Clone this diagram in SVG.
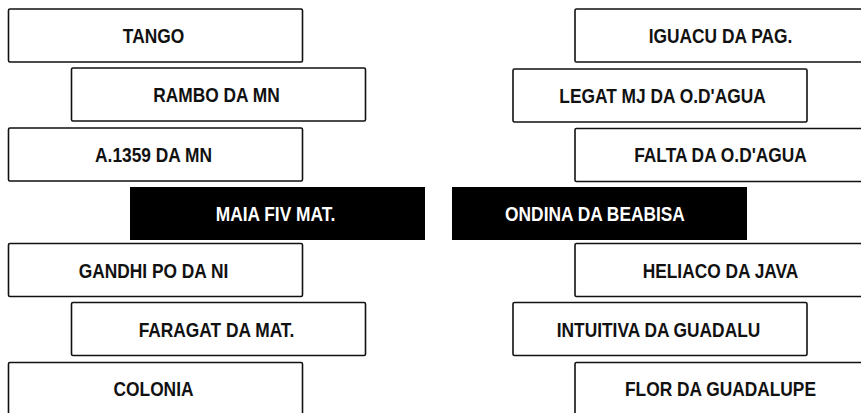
<svg xmlns="http://www.w3.org/2000/svg" width="861" height="413" viewBox="0 0 861 413">
<style>
.b{fill:#fff;stroke:#111;stroke-width:1.6}
.k{fill:#000;stroke:none}
text{font-family:"Liberation Sans",Arial,sans-serif;font-weight:bold;font-size:19.5px;text-anchor:middle}
.w{fill:#fff}
.d{fill:#111}
</style>
<rect width="861" height="413" fill="#fff"/>
<g id="connectors"/>
<g id="n1"><rect class="b" x="8.5" y="9" width="294" height="53" rx="1.5"/><text class="d" transform="translate(153.5,42.7) scale(0.89,1)">TANGO</text></g>
<g id="n2"><rect class="b" x="71.5" y="68" width="294" height="53" rx="1.5"/><text class="d" transform="translate(216.5,101.7) scale(0.89,1)">RAMBO DA MN</text></g>
<g id="n3"><rect class="b" x="8.5" y="128" width="294" height="53" rx="1.5"/><text class="d" transform="translate(153.5,161.7) scale(0.89,1)">A.1359 DA MN</text></g>
<g id="n4"><rect class="k" x="130" y="187" width="295" height="53"/><text class="w" transform="translate(275.5,221) scale(0.89,1)">MAIA FIV MAT.</text></g>
<g id="n5"><rect class="b" x="8.5" y="243.5" width="294" height="53" rx="1.5"/><text class="d" transform="translate(153.5,277.5) scale(0.89,1)">GANDHI PO DA NI</text></g>
<g id="n6"><rect class="b" x="71.5" y="302.5" width="294" height="53" rx="1.5"/><text class="d" transform="translate(216.5,336.5) scale(0.89,1)">FARAGAT DA MAT.</text></g>
<g id="n7"><rect class="b" x="8.5" y="362.5" width="294" height="53" rx="1.5"/><text class="d" transform="translate(153.5,396.2) scale(0.89,1)">COLONIA</text></g>
<g id="n8"><rect class="b" x="575" y="9" width="294" height="53" rx="1.5"/><text class="d" transform="translate(720.5,42.7) scale(0.89,1)">IGUACU DA PAG.</text></g>
<g id="n9"><rect class="b" x="513" y="69" width="294" height="53" rx="1.5"/><text class="d" transform="translate(662.5,102.7) scale(0.89,1)">LEGAT MJ DA O.D'AGUA</text></g>
<g id="n10"><rect class="b" x="575" y="128.5" width="294" height="53" rx="1.5"/><text class="d" transform="translate(720.5,162) scale(0.89,1)">FALTA DA O.D'AGUA</text></g>
<g id="n11"><rect class="k" x="452" y="187" width="295" height="53"/><text class="w" transform="translate(595,221) scale(0.89,1)">ONDINA DA BEABISA</text></g>
<g id="n12"><rect class="b" x="575" y="243.5" width="294" height="53" rx="1.5"/><text class="d" transform="translate(720.5,277.5) scale(0.89,1)">HELIACO DA JAVA</text></g>
<g id="n13"><rect class="b" x="513" y="302.5" width="294" height="53" rx="1.5"/><text class="d" transform="translate(658.5,336.5) scale(0.89,1)">INTUITIVA DA GUADALU</text></g>
<g id="n14"><rect class="b" x="575" y="362.5" width="294" height="53" rx="1.5"/><text class="d" transform="translate(720.5,396.2) scale(0.89,1)">FLOR DA GUADALUPE</text></g>
</svg>
